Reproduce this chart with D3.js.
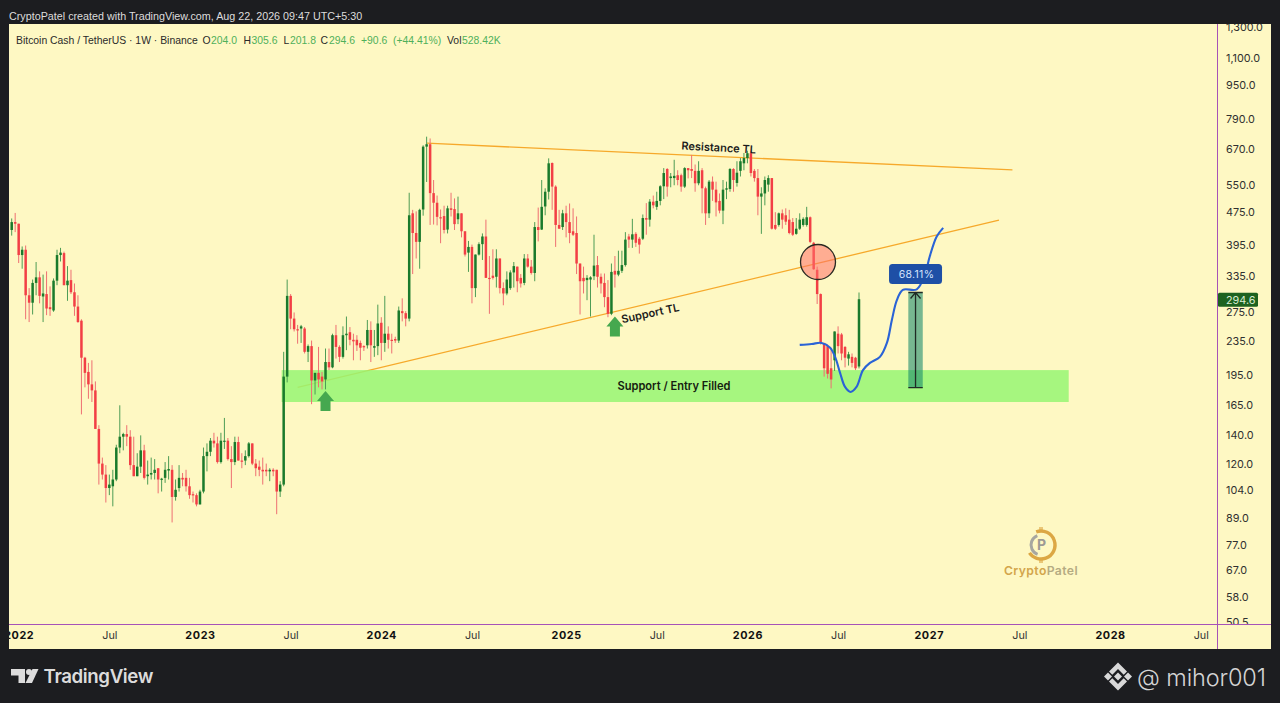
<!DOCTYPE html>
<html>
<head>
<meta charset="utf-8">
<title>Bitcoin Cash / TetherUS</title>
<script src="https://cdn.jsdelivr.net/npm/d3@7"></script>
<style>
    html, body { margin: 0; padding: 0; background: #1c1d20; overflow: hidden; }
    svg { display: block; }
    text { font-family: Inter, "Noto Sans", sans-serif; }
</style>
</head>
<body>
<svg id="chart" width="1280" height="703"></svg>
<script>
// weekly candles
const firstWeek = "2021-12-20";
const opens = [
    430,449,445,375,386,301,289,322,332,299,303,282,277,326,375,379,318,327,306,283,
    262,214,198,185,179,145,120,113,105,106,110,131,139,141,139,119,112,118,129,112,
    113,114,117,110,111,115.5,116,100,105,111,111,106,101.5,101,96,103,125,128,136,134,
    121,135.5,136,123,121,135,122,122,125,134,120,118,116,116,115,116,116,103,107,193,
    300,265,250,251,251,221,228,189,197,193,190,209,203,242,227,215,242,246,236,236,
    232,228,229,249,226,228,259,232,244,236,237,235,276,273,265,471,423,403,481,678,
    687,526,499,461,464,431,484,482,456,471,427,380,392,313,376,398,415,331,335,333,
    368,313,304,313,341,352,331,322,368,352,340,437,431,489,530,620,545,442,437,471,
    449,427,423,358,331,327,328,334,355,333,322,298,272,344,337,344,355,415,408,421,
    410,410,459,455,502,488,504,546,600,571,571,580,580,545,603,600,594,555,596,540,
    471,560,536,504,478,536,538,600,556,594,619,637,654,594,571,516,525,551,571,442,
    442,471,466,455,449,421,433,442,442,461,401,346,303,232,228,202,211,244,243,227,
    213,215,214,204
];
const highs = [
    458,472,445,393,395,313,328,361,343,337,343,316,330,386,390,382,353,346,321,301,
    264,215,208,211,188,148,124,119,113,116,133,165,142,148,144,139,127,140,133,122,
    124,123,117,111,121,125,119,110,119,114,116,111,103,102,104,131,134,138,142,139,
    142,154,138,132,139,139,127,129,135,134,123,122,124,120,117,117,116,109,221,328,
    303,274,256,256,253,230,235,197,227,198,225,225,244,256,229,254,268,253,244,242,
    235,229,263,261,249,286,267,300,254,244,240,283,296,276,527,480,476,483,683,716,
    709,565,519,481,491,491,527,511,516,471,427,405,397,376,402,422,455,373,387,387,
    368,323,343,345,361,352,338,377,377,365,449,486,565,540,636,622,549,480,480,491,
    497,484,463,358,352,336,334,419,373,339,339,327,358,373,384,384,425,421,457,425,
    414,468,498,509,519,530,549,603,603,587,631,596,585,606,603,648,615,626,603,545,
    565,576,560,525,565,560,603,603,626,637,655,663,663,600,600,543,576,580,571,474,
    473,481,484,480,459,459,471,461,488,463,403,352,304,232,230,223,247,254,245,228,
    221,219,215,305.6
];
const lows = [
    417,425,359,348,264,260,271,301,288,260,270,269,275,318,362,318,292,303,269,259,
    157,182,171,168,145,107,110,97,101,95,109,127,129,132,116,112,112,114,110,107,
    110,110,102,103,108,110,87,98,103,106,103,99,97,95,96,102,115,125,131,120,
    120,130,122,105,119,122,117,119,124,119,112,112,107,112,109,112,91,100,106,187,
    250,247,231,232,219,209,166,175,182,180,180,200,202,213,209,213,223,229,211,222,
    211,222,225,209,215,217,211,221,225,219,232,232,261,254,261,338,368,348,465,559,
    442,443,441,400,422,422,463,430,444,413,372,342,288,298,374,365,331,272,328,314,
    304,285,301,310,314,306,314,318,350,337,325,404,430,466,508,480,392,433,430,413,
    400,416,338,271,304,293,268,327,314,304,282,267,270,314,334,340,352,390,390,392,
    378,407,419,438,484,480,492,509,516,543,549,549,530,541,570,571,530,549,471,442,
    459,504,463,471,444,509,530,530,545,576,596,619,576,560,466,421,492,530,431,430,
    438,433,442,420,416,419,430,438,438,400,346,287,230,193,191,181,199,219,211,203,
    205,203,200,201.8
];
const closes = [
    449,445,375,386,301,289,322,332,300,304,280,279,326,375,380,318,326,306,283,260,
    214,197,185,179,145,120,113,105,107,110,131,139,141,139,119,112,118,129,111,113,
    114,116,110,110.5,116,116.5,100,104,111,110,106,101,101,96,103,125,128,136,134,121,
    136,136,123,121,135,122,121.5,125,134,120,117,116,115,115,116,115,103,107,193,300,
    265,250,249,254,221,228,189,197,190,188,209,203,242,227,215,242,244,236,234,229,
    226,227,249,229,228,258,232,244,236,235,235,277,273,265,466,423,403,480,678,687,
    526,499,462,460,430,484,480,444,471,427,376,392,313,376,398,415,331,330,331,368,
    313,304,328,341,353,325,321,368,352,340,437,430,488,530,619,545,442,433,471,449,
    423,419,358,325,325,331,332,354,333,321,298,272,342,337,344,355,408,408,420,401,
    397,459,455,502,492,504,546,587,545,576,578,565,545,603,596,594,555,594,540,471,
    560,536,500,478,536,540,600,565,588,626,637,654,587,571,516,525,565,571,433,433,
    471,455,450,423,419,433,455,457,461,403,347,303,232,202,196,190,247,228,219,214,
    218,208,202,294.6
];

const priceTicks = [1300,1100,950,790,670,550,475,395,335,275,235,195,165,140,120,104,89,77,67,58,50.5];
const timeTicks = ["2022-01-03","2022-07-04","2023-01-02","2023-07-03","2024-01-01","2024-07-01","2025-01-06",
    "2025-07-07","2026-01-05","2026-07-06","2027-01-04","2027-07-05","2028-01-03","2028-07-03"];
const timeLabels = ["2022","Jul","2023","Jul","2024","Jul","2025","Jul","2026","Jul","2027","Jul","2028","Jul"];

// drawings on the chart
const resistanceDates = ["2024-04-01","2027-06-21"];
const resistancePrices = [691,597];
const supportDates = ["2023-07-17","2027-05-25"];
const supportPrices = [182,454];
const zoneDates = ["2023-06-15","2027-10-12"];
const zonePrices = [200,168];
const measureDates = ["2026-11-24","2026-12-23"];
const measurePrices = [305.6,181.8];
const pathDates = ["2026-04-20","2026-05-14","2026-06-03","2026-06-20","2026-06-30","2026-07-10","2026-07-20",
    "2026-07-31","2026-08-12","2026-08-25","2026-09-08","2026-09-28","2026-10-12","2026-10-22","2026-11-01",
    "2026-11-13","2026-12-11","2026-12-27","2027-01-06","2027-01-20","2027-02-02"];
const pathPrices = [229.5,230.7,232,226,215,197,182.4,177.5,182.4,200,208,215,232,263,293,310,311,336,372,415,435];
const arrowDates = ["2023-09-11","2025-04-14"];
const arrowPrices = [178.5,268];

const greenDark = "#1a7a2c", redBody = "#f23f45", orange = "#f6a92b", purple = "#a653b8";
const panelBg = "#fef8c3";

const parse = d3.utcParse("%Y-%m-%d");
const weekDates = opens.map((d, i) => d3.utcMonday.offset(parse(firstWeek), i));

const x = d3.scaleUtc()
    .domain([weekDates[0], weekDates[weekDates.length - 1]])
    .range([11.7, 859]);
const y = d3.scaleLog()
    .domain([1300, 50.5])
    .range([27.5, 622]);

const svg = d3.select("#chart");
const defs = svg.append("defs");
defs.append("clipPath").attr("id", "plotClip").append("rect")
    .attr("x", 9).attr("y", 24).attr("width", 1208).attr("height", 600.5);
defs.append("clipPath").attr("id", "priceClip").append("rect")
    .attr("x", 1218).attr("y", 24).attr("width", 53).attr("height", 600);
defs.append("clipPath").attr("id", "timeClip").append("rect")
    .attr("x", 9).attr("y", 625).attr("width", 1208).attr("height", 24);

svg.append("text").attr("x", 9).attr("y", 20)
    .style("font-family", "'Liberation Sans', sans-serif")
    .attr("font-size", 10.75).attr("fill", "#dcdcdc")
    .text("CryptoPatel created with TradingView.com, Aug 22, 2026 09:47 UTC+5:30");

svg.append("rect").attr("x", 9).attr("y", 24).attr("width", 1262).attr("height", 625).attr("fill", panelBg);

let plot = svg.append("g").attr("clip-path", "url(#plotClip)");

// resistance and support lines go under the zone
const trendLine = d3.line().x(d => x(parse(d[0]))).y(d => y(d[1]));
plot.append("path")
    .attr("d", trendLine(d3.zip(resistanceDates, resistancePrices)))
    .attr("fill", "none").attr("stroke", orange).attr("stroke-width", 1.3);
plot.append("path")
    .attr("d", trendLine(d3.zip(supportDates, supportPrices)))
    .attr("fill", "none").attr("stroke", orange).attr("stroke-width", 1.3);

plot.append("rect")
    .attr("x", x(parse(zoneDates[0])))
    .attr("y", y(zonePrices[0]))
    .attr("width", x(parse(zoneDates[1])) - x(parse(zoneDates[0])))
    .attr("height", y(zonePrices[1]) - y(zonePrices[0]))
    .attr("fill", "#97f673").attr("fill-opacity", 0.85);

// candles
let candles = plot.append("g");
weekDates.forEach((date, i) => {
    let up = closes[i] >= opens[i];
    candles.append("line")
        .attr("x1", x(date)).attr("x2", x(date))
        .attr("y1", y(highs[i])).attr("y2", y(lows[i]))
        .attr("stroke", up ? "#4d9c55" : "#ee6f72")
        .attr("stroke-width", 1);
    let top = y(Math.max(opens[i], closes[i]));
    let bottom = y(Math.min(opens[i], closes[i]));
    candles.append("rect")
        .attr("x", x(date) - 1.25)
        .attr("y", top)
        .attr("width", 2.5)
        .attr("height", Math.max(bottom - top, 1.2))
        .attr("fill", up ? greenDark : redBody);
});

// up arrows
arrowDates.forEach((d, i) => {
    let ax = x(parse(d)), ay = y(arrowPrices[i]);
    let arrow = d3.path();
    arrow.moveTo(ax, ay);
    arrow.lineTo(ax + 8.5, ay + 10);
    arrow.lineTo(ax + 5, ay + 10);
    arrow.lineTo(ax + 5, ay + 20);
    arrow.lineTo(ax - 5, ay + 20);
    arrow.lineTo(ax - 5, ay + 10);
    arrow.lineTo(ax - 8.5, ay + 10);
    arrow.closePath();
    plot.append("path").attr("d", arrow.toString()).attr("fill", "#45a84f");
});

// circle where the support line broke
plot.append("circle")
    .attr("cx", 818).attr("cy", 262).attr("r", 17.5)
    .attr("fill", "#ff6f6a").attr("fill-opacity", 0.55)
    .attr("stroke", "#2a2a22").attr("stroke-width", 1.3);

// projection
const curve = d3.line().x(d => x(parse(d[0]))).y(d => y(d[1])).curve(d3.curveCatmullRom);
plot.append("path")
    .attr("d", curve(d3.zip(pathDates, pathPrices)))
    .attr("fill", "none").attr("stroke", "#2a63d6").attr("stroke-width", 2.1);

// measure box
const mx0 = x(parse(measureDates[0])), mx1 = x(parse(measureDates[1]));
const my0 = y(measurePrices[0]), my1 = y(measurePrices[1]);
const mxc = (mx0 + mx1) / 2;
plot.append("rect")
    .attr("x", mx0).attr("y", my0).attr("width", mx1 - mx0).attr("height", my1 - my0)
    .attr("fill", "#14886a").attr("fill-opacity", 0.58);
plot.append("path")
    .attr("d", `M${mx0},${my1}H${mx1}M${mxc},${my1}V${my0}M${mx0},${my0}H${mx1}M${mxc - 5},${my0 + 6}L${mxc},${my0}L${mxc + 5},${my0 + 6}`)
    .attr("fill", "none").attr("stroke", "#1f2a24").attr("stroke-width", 1.3);
plot.append("rect")
    .attr("x", mxc - 26.5).attr("y", my0 - 28.5).attr("width", 53).attr("height", 20).attr("rx", 3.5)
    .attr("fill", "#1e4fa6");
plot.append("text")
    .attr("x", mxc + 1).attr("y", my0 - 14.5)
    .attr("text-anchor", "middle").attr("font-size", 10.5).attr("letter-spacing", 0.3)
    .attr("fill", "#d5e2fb")
    .text("68.11%");

// labels on the drawings
plot.append("text").attr("x", 674).attr("y", 390)
    .attr("text-anchor", "middle").attr("font-size", 11.1).attr("font-weight", 600).attr("fill", "#15200f")
    .text("Support / Entry Filled");
plot.append("text")
    .attr("transform", "translate(718.5,151.5) rotate(3)")
    .attr("text-anchor", "middle").attr("font-size", 11).attr("font-weight", 600).attr("fill", "#1c1c1c")
    .text("Resistance TL");
plot.append("text")
    .attr("transform", "translate(651,317) rotate(-12)")
    .attr("text-anchor", "middle").attr("font-size", 11).attr("font-weight", 600).attr("fill", "#1c1c1c")
    .text("Support TL");

// header line with the OHLC values
let headGreen = "#4fb05a", headDark = "#2a2a2a";
function headerText(px, txt, color) {
    svg.append("text").attr("x", px).attr("y", 44)
        .style("font-family", "'Liberation Sans', sans-serif")
        .attr("font-size", 10.4).attr("fill", color).text(txt);
}
headerText(16, "Bitcoin Cash / TetherUS · 1W · Binance", headDark);
headerText(202.5, "O", headDark);
headerText(211, "204.0", headGreen);
headerText(243.5, "H", headDark);
headerText(251.5, "305.6", headGreen);
headerText(283.5, "L", headDark);
headerText(290, "201.8", headGreen);
headerText(320.5, "C", headDark);
headerText(329, "294.6", headGreen);
headerText(361, "+90.6", headGreen);
headerText(393, "(+44.41%)", headGreen);
headerText(447, "Vol", headDark);
headerText(462, "528.42K", headGreen);

// price axis
let priceAxis = svg.append("g")
    .attr("clip-path", "url(#priceClip)")
    .append("g")
    .attr("transform", "translate(1217,0)")
    .call(d3.axisRight(y).tickValues(priceTicks).tickSize(0).tickPadding(9).tickFormat(d3.format(",.1f")));
priceAxis.select(".domain").remove();
priceAxis.selectAll("text")
    .style("font-family", "Inter, sans-serif")
    .attr("font-size", 10.8).attr("fill", "#303030");

// time axis
let timeAxis = svg.append("g")
    .attr("clip-path", "url(#timeClip)")
    .append("g")
    .attr("transform", "translate(0,624.5)")
    .call(d3.axisBottom(x).tickValues(timeTicks.map(parse)).tickSize(0).tickPadding(7)
        .tickFormat((d, i) => timeLabels[i]));
timeAxis.select(".domain").remove();
timeAxis.selectAll("text")
    .style("font-family", "Inter, sans-serif")
    .attr("font-size", 10.8)
    .attr("font-weight", (d, i) => timeLabels[i] === "Jul" ? 400 : 700)
    .attr("fill", (d, i) => timeLabels[i] === "Jul" ? "#333" : "#111")
    .attr("letter-spacing", (d, i) => timeLabels[i] === "Jul" ? 0 : 0.6);

// axis borders
svg.append("rect").attr("x", 9).attr("y", 624).attr("width", 1262).attr("height", 1).attr("fill", purple);
svg.append("rect").attr("x", 1217).attr("y", 24).attr("width", 1).attr("height", 625).attr("fill", purple);

// last price tag
const lastClose = closes[closes.length - 1];
svg.append("rect")
    .attr("x", 1218).attr("y", y(lastClose) - 6.5).attr("width", 40).attr("height", 14).attr("rx", 1.5)
    .attr("fill", "#1d6220");
svg.append("text")
    .attr("x", 1226).attr("y", y(lastClose) + 4.5)
    .attr("font-size", 10.8).attr("fill", "#d8ecd2")
    .text(d3.format(".1f")(lastClose));

// CryptoPatel logo
let logo = svg.append("g").attr("transform", "translate(1041,545)");
logo.append("circle").attr("r", 14).attr("fill", "none").attr("stroke", "#dca744").attr("stroke-width", 3.4)
    .attr("stroke-dasharray", "62 26").attr("transform", "rotate(-110)");
logo.append("circle").attr("r", 10).attr("fill", "none").attr("stroke", "#a7a6a0").attr("stroke-width", 3)
    .attr("stroke-dasharray", "24 39").attr("transform", "rotate(110)");
logo.append("path").attr("d", "M-1,-18V-15M1,-18V-15M-1,15V18M1,15V18").attr("stroke", "#dca744").attr("stroke-width", 1.2);
logo.append("text").attr("x", 0.5).attr("y", 5).attr("text-anchor", "middle")
    .attr("font-size", 14).attr("font-weight", 700).attr("fill", "#9c9a94").text("P");
let logoText = svg.append("text").attr("x", 1041).attr("y", 575)
    .attr("text-anchor", "middle").attr("font-size", 12.2).attr("font-weight", 600).attr("letter-spacing", 0.4);
logoText.append("tspan").attr("fill", "#d3a54a").text("Crypto");
logoText.append("tspan").attr("fill", "#b5ab82").text("Patel");

// TradingView mark
let tv = svg.append("g").attr("fill", "#dcdcdc");
tv.append("path").attr("d", "M11,669H25V683H18.5V675.5H11Z");
tv.append("circle").attr("cx", 29).attr("cy", 672).attr("r", 3);
tv.append("path").attr("d", "M32.5,669H38.5L32,683H25.5Z");
svg.append("text").attr("x", 43.5).attr("y", 683)
    .attr("font-size", 18.7).attr("font-weight", 600).attr("letter-spacing", -0.4).attr("fill", "#dcdcdc")
    .text("TradingView");

// binance diamond and handle
let bin = svg.append("g").attr("transform", "translate(1118,676.5)").attr("fill", "#d8d8d8");
bin.append("path").attr("d", "M0,-4L4,0L0,4L-4,0Z");
bin.append("path").attr("d", "M-14,0L-10,-4L-6,0L-10,4Z");
bin.append("path").attr("d", "M14,0L10,-4L6,0L10,4Z");
bin.append("path").attr("d", "M0,-14L9,-5L5.7,-1.8L0,-7.5L-5.7,-1.8L-9,-5Z");
bin.append("path").attr("d", "M0,14L9,5L5.7,1.8L0,7.5L-5.7,1.8L-9,5Z");
svg.append("text").attr("x", 1137).attr("y", 685.5)
    .attr("font-size", 23.5).attr("font-weight", 300).attr("fill", "#d4d4d4").attr("letter-spacing", -0.1)
    .text("@ mihor001");
</script>
</body>
</html>
